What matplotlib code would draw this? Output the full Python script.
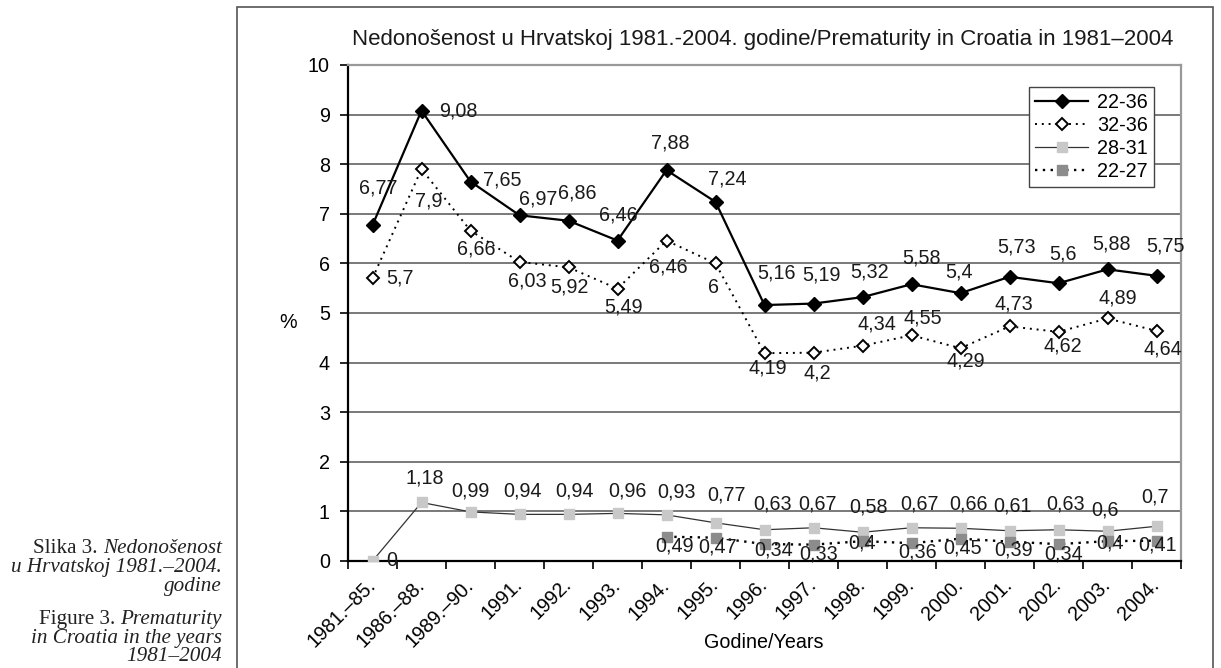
import matplotlib
matplotlib.use("Agg")
import matplotlib.pyplot as plt
from matplotlib.patches import Rectangle

plt.rcParams['font.family'] = ['Liberation Sans', 'DejaVu Sans']

years = ["1981.–85.", "1986.–88.", "1989.–90.", "1991.", "1992.", "1993.", "1994.",
         "1995.", "1996.", "1997.", "1998.", "1999.", "2000.", "2001.", "2002.",
         "2003.", "2004."]

s22_36 = [6.77, 9.08, 7.65, 6.97, 6.86, 6.46, 7.88, 7.24, 5.16, 5.19, 5.32, 5.58,
          5.4, 5.73, 5.6, 5.88, 5.75]
s32_36 = [5.7, 7.9, 6.66, 6.03, 5.92, 5.49, 6.46, 6, 4.19, 4.2, 4.34, 4.55, 4.29,
          4.73, 4.62, 4.89, 4.64]
s28_31 = [0, 1.18, 0.99, 0.94, 0.94, 0.96, 0.93, 0.77, 0.63, 0.67, 0.58, 0.67,
          0.66, 0.61, 0.63, 0.6, 0.7]
s22_27 = [0.49, 0.47, 0.34, 0.33, 0.4, 0.36, 0.45, 0.39, 0.34, 0.4, 0.41]
start22_27 = 6  # series starts at 1994.

# label offsets in pixels (dx, dy) - placement only
off22_36 = [(6, 37), (37, 0), (32, 2), (19, 16), (9, 28), (1, 26), (4, 27), (12, 23),
            (12, 32), (8, 29), (7, 25), (10, 26), (-1, 21), (7, 30), (4, 29), (4, 25), (9, 30)]
off32_36 = [(27, 0), (7, -32), (6, -18), (8, -19), (1, -20), (6, -18), (2, -26), (-2, -24),
            (3, -15), (4, -20), (14, 22), (11, 17), (5, -13), (4, 22), (4, -14), (10, 20), (6, -18)]
off28_31 = [(19, 0), (3, 24), (0, 21), (3, 23), (6, 23), (10, 22), (10, 23), (11, 28),
            (8, 26), (4, 24), (6, 25), (8, 24), (8, 24), (3, 25), (7, 26), (-3, 21), (-1, 29)]
off22_27 = [(8, -9), (2, -9), (9, -6), (5, -9), (0, -2), (6, -9), (2, -9), (4, -8),
            (5, -10), (3, -2), (1, -4)]

FS = 14.2

fig = plt.figure(figsize=(12.21, 6.68), dpi=100)
# outer frame around the chart
fig.patches.append(Rectangle((237 / 1221, -0.05), (1213 - 237) / 1221, 1.05 - 7 / 668,
                             transform=fig.transFigure, fill=False, edgecolor='#555555',
                             linewidth=1.2))

ax = fig.add_axes([348 / 1221, 1 - 561 / 668, (1181 - 348) / 1221, (561 - 65) / 668])

x = list(range(len(years)))
x27 = x[start22_27:]

ax.plot(x, s22_36, color='black', lw=1.6, marker='D', ms=7, mfc='black', mec='black',
        label='22-36', zorder=5)
ax.plot(x, s32_36, color='black', lw=1.4, ls=(0, (1, 2.5)), marker='D', ms=6.5, mfc='white',
        mec='black', mew=1.4, label='32-36', zorder=5)
ax.plot(x, s28_31, color='#333333', lw=0.9, marker='s', ms=7.5, mfc='#c8c8c8', mec='#c8c8c8',
        label='28-31', zorder=4)
ax.plot(x27, s22_27, color='black', lw=1.7, ls=(0, (1, 2.3)), marker='s', ms=7, mfc='#8c8c8c',
        mec='#8c8c8c', label='22-27', zorder=4)

def fmt(v):
    return ('%g' % v).replace('.', ',')

for xs, ys, offs in [(x, s22_36, off22_36), (x, s32_36, off32_36),
                     (x, s28_31, off28_31), (x27, s22_27, off22_27)]:
    for xi, yi, (dx, dy) in zip(xs, ys, offs):
        ax.annotate(fmt(yi), (xi, yi), xytext=(dx, dy), textcoords='offset pixels',
                    ha='center', va='center', fontsize=FS, color='#1a1a1a', zorder=6)

ax.set_xlim(-0.5, len(years) - 0.5)
ax.set_ylim(0, 10)
ax.set_yticks(range(0, 11))
ax.set_xticks(x)
ax.set_xticks([i - 0.5 for i in range(len(years) + 1)], minor=True)
ax.set_xticklabels(years, rotation=45, ha='right', va='center', rotation_mode='anchor',
                   fontsize=FS)
ax.tick_params(axis='x', which='major', length=0, pad=15)
ax.tick_params(axis='x', which='minor', length=6, width=1.2, direction='out')
ax.tick_params(axis='y', length=6, width=1.2, pad=7, labelsize=FS)
ax.grid(axis='y', color='#555555', lw=1.1, zorder=1)

for side in ['left', 'bottom']:
    ax.spines[side].set_color('black')
    ax.spines[side].set_linewidth(1.6)
for side in ['top', 'right']:
    ax.spines[side].set_color('#999999')
    ax.spines[side].set_linewidth(1.6)

leg = ax.legend(loc='upper left', bbox_to_anchor=(0.8175, 0.9556), borderaxespad=0,
                fontsize=FS, frameon=True, fancybox=False, edgecolor='#444444',
                handlelength=2.7, handletextpad=0.45, labelspacing=0.2, borderpad=0.3)
leg.get_frame().set_linewidth(1.0)
leg.get_frame().set_alpha(1)
leg.set_zorder(10)

fig.text(763 / 1221, 1 - 40 / 668,
         "Nedonošenost u Hrvatskoj 1981.-2004. godine/Prematurity in Croatia in 1981–2004",
         ha='center', va='center', fontsize=16, color='#1a1a1a')
fig.text(764 / 1221, 1 - 643 / 668, "Godine/Years", ha='center', va='center', fontsize=FS)
fig.text(288 / 1221, 1 - 323 / 668, "%", ha='center', va='center', fontsize=FS)

# caption on the left, mixed upright / italic
serif = ['Liberation Serif', 'DejaVu Serif']
cx = 222 / 1221
CFS = 15.2

def cap_line(y, upright, italic):
    t = fig.text(cx, 1 - y / 668, italic, ha='right', va='baseline', fontsize=CFS,
                 family=serif, style='italic', color='#222222')
    if upright:
        ax.annotate(upright, xy=(0, 0), xycoords=t, ha='right', va='bottom',
                    fontsize=CFS, family=serif, color='#222222', annotation_clip=False)
    return t

cap_line(553, "Slika 3. ", "Nedonošenost")
cap_line(572, None, "u Hrvatskoj 1981.–2004.")
cap_line(591, None, "godine")
cap_line(624, "Figure 3. ", "Prematurity")
cap_line(643, None, "in Croatia in the years")
cap_line(661, None, "1981–2004")

fig.savefig('out.png', dpi=100)
